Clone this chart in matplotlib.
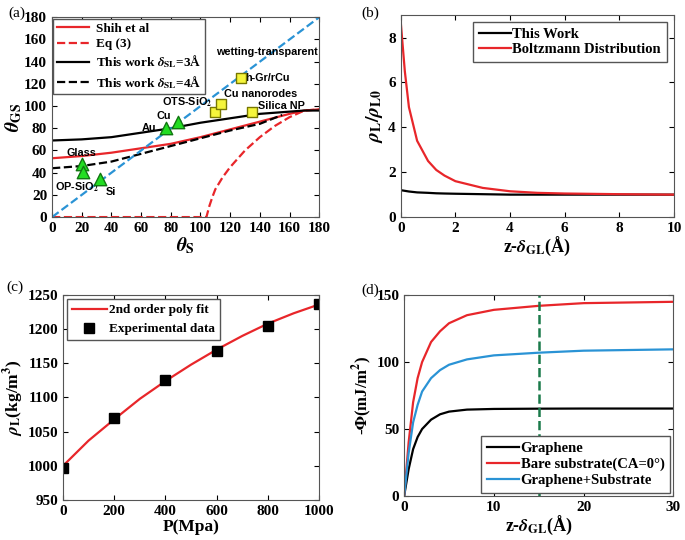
import matplotlib
matplotlib.use('Agg')
import matplotlib.pyplot as plt

plt.rcParams['font.family'] = 'Liberation Serif'
plt.rcParams['font.weight'] = 'bold'
plt.rcParams['axes.labelweight'] = 'bold'
plt.rcParams['mathtext.fontset'] = 'stix'
plt.rcParams['axes.edgecolor'] = '#555555'
plt.rcParams['xtick.direction'] = 'in'
plt.rcParams['ytick.direction'] = 'in'

# --- (a) data ---
theta_s = [0, 20, 40, 60, 80, 100, 120, 140, 160, 170, 180]
shih = [53, 55, 58, 62, 66, 72, 79, 86, 93, 96, 97]
this3 = [69, 70, 72, 76, 80, 85, 89, 93, 95, 96, 96]
theta_s4 = [0, 20, 40, 60, 80, 100, 120, 140, 155]
this4 = [44, 46, 50, 57, 64, 71, 78, 84, 92]
theta_eq = [0, 104, 105, 106, 108, 110, 115, 120, 130, 140, 150, 160, 170, 180]
eq3 = [0, 0, 5, 10, 18, 25, 36, 45, 60, 72, 82, 90, 96, 97]
diag = [0, 180]

tri_x = [20, 21, 32, 77, 85]
tri_y = [48, 41, 34, 80, 86]
sq_x = [110, 114, 127, 135]
sq_y = [95, 102, 125, 95]

# --- (b) data ---
zb = [0, 0.15, 0.3, 0.6, 1.0, 1.3, 1.6, 2.0, 2.5, 3.0, 4.0, 5.0, 6.0, 8.0, 10.0]
boltz = [8.7, 6.5, 4.9, 3.4, 2.5, 2.1, 1.85, 1.6, 1.45, 1.3, 1.15, 1.08, 1.05, 1.02, 1.0]
thiswork_b = [1.2, 1.17, 1.14, 1.1, 1.08, 1.06, 1.05, 1.04, 1.03, 1.02, 1.0, 1.0, 1.0, 1.0, 1.0]

# --- (c) data ---
p_fit = [0, 100, 200, 300, 400, 500, 600, 700, 800, 900, 1000]
rho_fit = [1000, 1037, 1068, 1098, 1124, 1148, 1170, 1190, 1208, 1223, 1236]
p_exp = [0, 200, 400, 600, 800, 1000]
rho_exp = [997, 1070, 1125, 1168, 1205, 1237]

# --- (d) data ---
zd = [0, 0.5, 1, 1.5, 2, 3, 4, 5, 7, 10, 15, 20, 30]
bare = [0, 40, 70, 88, 100, 115, 123, 129, 135, 139, 142, 144, 145]
gr_sub = [0, 32, 55, 68, 78, 88, 94, 98, 102, 105, 107, 108.5, 109.5]
graphene = [0, 20, 35, 44, 50, 57, 61, 63, 64.5, 65, 65.2, 65.3, 65.3]

fig = plt.figure(figsize=(6.85, 5.40), dpi=100)
leg_kw = dict(frameon=True, fancybox=False, edgecolor='#555555', framealpha=1)

# ---------- (a) ----------
ax = fig.add_axes([0.076, 0.598, 0.390, 0.370])
ax.plot(theta_s, shih, color='#e8262a', lw=1.6, label='Shih et al')
ax.plot(theta_eq, eq3, color='#e8262a', lw=1.6, ls='--', label='Eq (3)')
ax.plot(theta_s, this3, color='black', lw=1.6, label=r'This work $\delta_{\mathbf{SL}}$=3Å')
ax.plot(theta_s4, this4, color='black', lw=1.6, ls='--', label=r'This work $\delta_{\mathbf{SL}}$=4Å')
ax.plot(diag, diag, color='#2a93d5', lw=1.6, ls='--')
ax.scatter(tri_x, tri_y, marker='^', s=80, color='#22dd22', edgecolors='#117711', zorder=5)
ax.scatter(sq_x, sq_y, marker='s', s=55, color='#f5f53c', edgecolors='#777700', zorder=5)
sans = dict(family='Liberation Sans', fontsize=7.8, fontweight='bold')
ax.text(20, 53, 'Glass', ha='center', va='bottom', **sans)
ax.text(17, 33, r'OP-SiO$_2$', ha='center', va='top', **sans)
ax.text(36, 27, 'Si', ha='left', va='top', **sans)
ax.text(65, 80, 'Au', ha='center', va='center', **sans)
ax.text(75, 91, 'Cu', ha='center', va='center', **sans)
ax.text(108, 97, r'OTS-SiO$_2$', ha='right', va='bottom', **sans)
ax.text(116, 106, 'Cu nanorodes', ha='left', va='bottom', **sans)
ax.text(130, 125, 'h-Gr/rCu', ha='left', va='center', **sans)
ax.text(139, 96, 'Silica NP', ha='left', va='bottom', **sans)
ax.text(179, 149, 'wetting-transparent', ha='right', va='center', **sans)
ax.set_xlim(0, 180)
ax.set_ylim(0, 180)
ax.set_xticks(range(0, 181, 20))
ax.set_yticks(range(0, 181, 20))
ax.tick_params(labelsize=11, top=True, right=True)
ax.set_xlabel(r'$\theta_{\mathbf{S}}$', fontsize=14, labelpad=0)
ax.set_ylabel(r'$\theta_{\mathbf{GS}}$', fontsize=14, labelpad=0)
ax.legend(loc='upper left', fontsize=9.5, borderaxespad=0.1, handlelength=2.4,
          handletextpad=0.5, labelspacing=0.25, borderpad=0.3, **leg_kw)
fig.text(0.012, 0.975, '(a)', fontsize=11, va='center', fontweight='normal')

# ---------- (b) ----------
ax = fig.add_axes([0.585, 0.598, 0.399, 0.374])
ax.plot(zb, thiswork_b, color='black', lw=1.6, label='This Work')
ax.plot(zb, boltz, color='#e8262a', lw=1.6, label='Boltzmann Distribution')
ax.set_xlim(0, 10)
ax.set_ylim(0, 9)
ax.set_xticks(range(0, 11, 2))
ax.set_yticks(range(0, 9, 2))
ax.tick_params(labelsize=11, top=True, right=True)
ax.set_xlabel(r'z-$\delta_{\mathbf{GL}}$(Å)', fontsize=13, labelpad=0)
ax.set_ylabel(r'$\rho_{\mathbf{L}}/\rho_{\mathbf{L0}}$', fontsize=14, labelpad=2)
ax.legend(loc='upper right', fontsize=10.5, borderaxespad=0.5, handlelength=2.2,
          handletextpad=0.1, labelspacing=0.1, **leg_kw)
fig.text(0.528, 0.975, '(b)', fontsize=11, va='center', fontweight='normal')

# ---------- (c) ----------
ax = fig.add_axes([0.092, 0.074, 0.374, 0.380])
ax.plot(p_fit, rho_fit, color='#e8262a', lw=1.6, label='2nd order poly fit')
ax.plot(p_exp, rho_exp, 's', color='black', ms=6.5, label='Experimental data')
ax.set_xlim(0, 1000)
ax.set_ylim(950, 1250)
ax.set_xticks(range(0, 1001, 200))
ax.set_yticks(range(950, 1251, 50))
ax.tick_params(labelsize=11, top=True, right=True)
ax.set_xlabel('P(Mpa)', fontsize=12.5, labelpad=1)
ax.set_ylabel(r'$\rho_{\mathbf{L}}$(kg/m$^{\mathbf{3}}$)', fontsize=12.5, labelpad=1)
ax.legend(loc='upper left', fontsize=9.5, borderaxespad=0.3, handlelength=2.6,
          handletextpad=0.2, labelspacing=0.5, **leg_kw)
fig.text(0.010, 0.468, '(c)', fontsize=11, va='center', fontweight='normal')

# ---------- (d) ----------
ax = fig.add_axes([0.590, 0.0815, 0.393, 0.372])
ax.plot(zd, graphene, color='black', lw=1.6, label='Graphene')
ax.plot(zd, bare, color='#e8262a', lw=1.6, label='Bare substrate(CA=0°)')
ax.plot(zd, gr_sub, color='#2a93d5', lw=1.6, label='Graphene+Substrate')
ax.axvline(15, color='#1a7a4a', lw=1.8, ls='--')
ax.set_xlim(0, 30)
ax.set_ylim(0, 150)
ax.set_xticks(range(0, 31, 10))
ax.set_yticks(range(0, 151, 50))
ax.tick_params(labelsize=11, top=True, right=True)
ax.set_xlabel(r'z-$\delta_{\mathbf{GL}}$(Å)', fontsize=13, labelpad=0)
ax.set_ylabel(r'-$\Phi$(mJ/m$^{\mathbf{2}}$)', fontsize=12, labelpad=2)
ax.legend(loc='lower right', fontsize=10.5, borderaxespad=0.2, handlelength=2.2,
          handletextpad=0.1, labelspacing=0.2, **leg_kw)
fig.text(0.527, 0.463, '(d)', fontsize=11, va='center', fontweight='normal')

fig.savefig('out.png', dpi=100)
